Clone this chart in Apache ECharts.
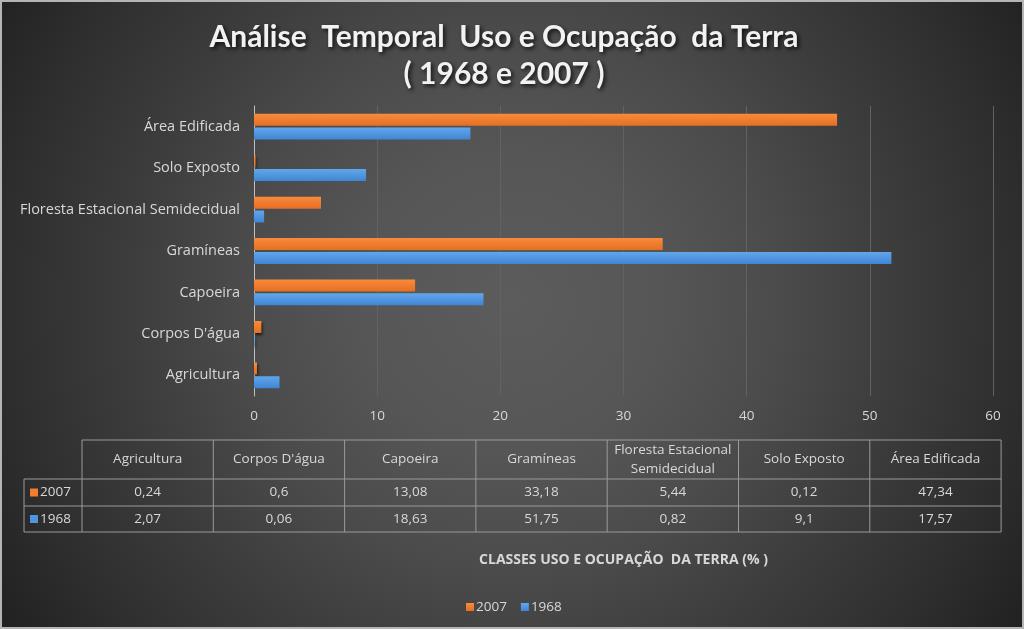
<!DOCTYPE html>
<html>
<head>
<meta charset="utf-8">
<script src="https://cdn.jsdelivr.net/npm/echarts@6/dist/echarts.min.js"></script>
<style>html,body{margin:0;padding:0;background:#2a2a2a;}#c{width:1024px;height:629px;}</style>
</head>
<body>
<div id="c"></div>
<script>
var categories = ['Agricultura', "Corpos D'água", 'Capoeira', 'Gramíneas', 'Floresta Estacional Semidecidual', 'Solo Exposto', 'Área Edificada'];
var tableHeaders = ['Agricultura', "Corpos D'água", 'Capoeira', 'Gramíneas', 'Floresta Estacional\nSemidecidual', 'Solo Exposto', 'Área Edificada'];
var values2007 = [0.24, 0.6, 13.08, 33.18, 5.44, 0.12, 47.34];
var values1968 = [2.07, 0.06, 18.63, 51.75, 0.82, 9.1, 17.57];
var seriesNames = ['2007', '1968'];
var xTicks = [0, 10, 20, 30, 40, 50, 60];

var C2007 = '#F27D2E', C1968 = '#4F95DE';
var FONT = 'Open Sans';
var TXT = '#d8d8d8';

var chart = echarts.init(document.getElementById('c'));

function fmt(v){ return String(v).replace('.', ','); }

var g = [];
var tx0 = 82, cw = 131.3, hy0 = 440, hy1 = 479, r1 = 506, r2 = 532, lx = 24;
var lineC = '#9a9a9a';
function line(x1,y1,x2,y2){ g.push({type:'line', shape:{x1:x1,y1:y1,x2:x2,y2:y2}, style:{stroke:lineC, lineWidth:1}, silent:true}); }
var tx1 = tx0 + cw * tableHeaders.length;
line(tx0, hy0, tx1, hy0);
line(lx, hy1, tx1, hy1);
line(lx, r1, tx1, r1);
line(lx, r2, tx1, r2);
line(lx, hy1, lx, r2);
for (var i = 0; i <= tableHeaders.length; i++) {
  line(tx0 + cw*i, hy0, tx0 + cw*i, r2);
}
tableHeaders.forEach(function(h, i){
  g.push({type:'text', x: tx0 + cw*i + cw/2, y: (hy0+hy1)/2, silent:true,
    style:{text:h, fill:TXT, font:'13.5px "' + FONT + '"', align:'center', verticalAlign:'middle', lineHeight: 19}});
});
var rows = [[seriesNames[0], values2007, C2007, hy1, r1], [seriesNames[1], values1968, C1968, r1, r2]];
rows.forEach(function(r){
  var cy = (r[3]+r[4])/2;
  g.push({type:'rect', shape:{x:lx+6, y:cy-4, width:8, height:8}, style:{fill:r[2]}, silent:true});
  g.push({type:'text', x: lx+16, y: cy, silent:true, style:{text:r[0], fill:TXT, font:'13.5px "' + FONT + '"', align:'left', verticalAlign:'middle'}});
  r[1].forEach(function(v, i){
    g.push({type:'text', x: tx0 + cw*i + cw/2, y: cy, silent:true, style:{text:fmt(v), fill:TXT, font:'13.5px "' + FONT + '"', align:'center', verticalAlign:'middle'}});
  });
});
g.push({type:'rect', shape:{x:1, y:1, width:1022, height:627}, style:{fill:null, stroke:'#b5b5b5', lineWidth:2}, silent:true, z:100});

chart.setOption({
  backgroundColor: {
    type: 'radial', x: 0.5, y: 0.48, r: 0.95,
    colorStops: [
      {offset: 0, color: '#5c5c5c'},
      {offset: 0.25, color: '#565656'},
      {offset: 0.45, color: '#4b4b4b'},
      {offset: 0.65, color: '#3c3c3c'},
      {offset: 0.85, color: '#2e2e2e'},
      {offset: 1, color: '#222222'}
    ]
  },
  textStyle: {fontFamily: FONT},
  title: {
    text: 'Análise  Temporal  Uso e Ocupação  da Terra\n( 1968 e 2007 )',
    left: 499, top: 14, textAlign: 'center',
    textStyle: {color: '#f2f2f2', fontSize: 30, fontWeight: 'bold', fontFamily: 'Lato', lineHeight: 37,
      textShadowColor: 'rgba(0,0,0,0.8)', textShadowBlur: 4, textShadowOffsetX: 2, textShadowOffsetY: 2}
  },
  legend: {
    data: seriesNames, left: 461, top: 595, icon: 'rect', itemWidth: 8, itemHeight: 8, itemGap: 14,
    textStyle: {color: TXT, fontSize: 13.5, fontFamily: FONT, padding: [0,0,0,-3]}
  },
  grid: {left: 254, right: 31, top: 106, bottom: 233, containLabel: false},
  xAxis: {
    type: 'value', min: xTicks[0], max: xTicks[xTicks.length-1], interval: 10,
    name: 'CLASSES USO E OCUPAÇÃO  DA TERRA (% )', nameLocation: 'middle', nameGap: 157,
    nameTextStyle: {color: TXT, fontSize: 14, fontWeight: 'bold', fontFamily: FONT},
    axisLine: {show: false}, axisTick: {show: false},
    axisLabel: {color: TXT, fontSize: 13.5, margin: 13},
    splitLine: {lineStyle: {color: '#626262', width: 1}}
  },
  yAxis: {
    type: 'category', data: categories,
    axisLine: {lineStyle: {color: '#bfbfbf'}}, axisTick: {show: false},
    axisLabel: {color: TXT, fontSize: 14.5, margin: 14}
  },
  series: [
    {name: seriesNames[0], type: 'bar', data: values2007, barWidth: 12, barGap: '15%',
      itemStyle: {color: {type:'linear', x:0, y:0, x2:0, y2:1, colorStops:[{offset:0,color:'#f98b3c'},{offset:1,color:'#e56f22'}]},
        shadowColor: 'rgba(0,0,0,0.7)', shadowBlur: 3, shadowOffsetY: 2, shadowOffsetX: 1}},
    {name: seriesNames[1], type: 'bar', data: values1968, barWidth: 12, barGap: '15%',
      itemStyle: {color: {type:'linear', x:0, y:0, x2:0, y2:1, colorStops:[{offset:0,color:'#62a6ec'},{offset:1,color:'#3f86d3'}]},
        shadowColor: 'rgba(0,0,0,0.7)', shadowBlur: 3, shadowOffsetY: 2, shadowOffsetX: 1}}
  ],
  graphic: g
});
</script>
</body>
</html>
